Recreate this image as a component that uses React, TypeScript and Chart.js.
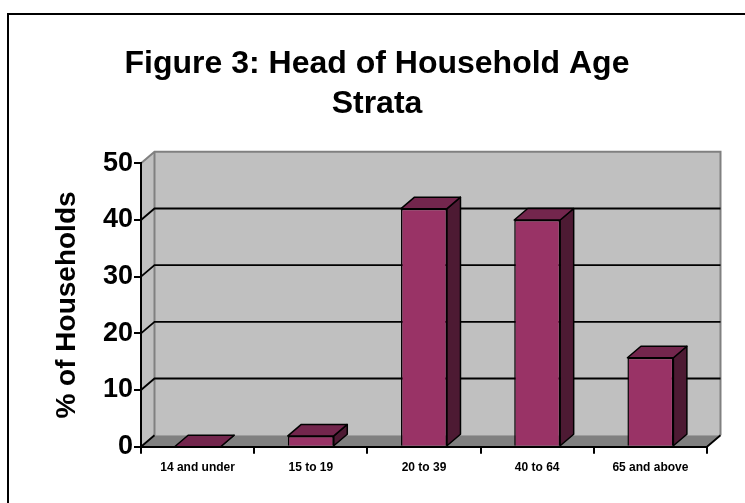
import React, { useEffect, useRef } from 'react';
import { Chart, registerables } from 'chart.js';

Chart.register(...registerables);

const titleLines = ['Figure 3: Head of Household Age', 'Strata'];
const yAxisTitle = '% of Households';
const categories = ['14 and under', '15 to 19', '20 to 39', '40 to 64', '65 and above'];
const households = [0, 1.9, 42.0, 40.0, 15.7];
const yTicks = [0, 10, 20, 30, 40, 50];

const DX = 13.5;
const DY = -11.5;
const FRONT = '#993366';
const TOPC = '#73264D';
const SIDE = '#4D1A33';
const WALL = '#C0C0C0';
const FLOOR = '#808080';
const EDGE = '#808080';
const FONT = 'Arial, "Liberation Sans", Helvetica, sans-serif';

const threeD = {
  id: 'threeD',
  beforeDraw(chart: any) {
    const ctx = chart.ctx;
    const { left, right, top, bottom } = chart.chartArea;
    const ys = chart.scales.y;
    ctx.save();
    ctx.strokeStyle = '#000';
    ctx.lineWidth = 2;
    ctx.strokeRect(8, 14, 800, 600);

    ctx.fillStyle = WALL;
    ctx.fillRect(left + DX, top + DY, right - left, bottom - top);
    ctx.beginPath();
    ctx.moveTo(left, top);
    ctx.lineTo(left + DX, top + DY);
    ctx.lineTo(left + DX, bottom + DY);
    ctx.lineTo(left, bottom);
    ctx.closePath();
    ctx.fill();

    ctx.fillStyle = FLOOR;
    ctx.beginPath();
    ctx.moveTo(left, bottom);
    ctx.lineTo(right, bottom);
    ctx.lineTo(right + DX, bottom + DY);
    ctx.lineTo(left + DX, bottom + DY);
    ctx.closePath();
    ctx.fill();

    ctx.strokeStyle = EDGE;
    ctx.lineWidth = 2;
    ctx.beginPath();
    ctx.moveTo(left, top);
    ctx.lineTo(left + DX, top + DY);
    ctx.lineTo(right + DX, top + DY);
    ctx.lineTo(right + DX, bottom + DY);
    ctx.moveTo(left + DX, top + DY);
    ctx.lineTo(left + DX, bottom + DY);
    ctx.stroke();

    ctx.strokeStyle = '#000';
    ctx.lineWidth = 1.8;
    ctx.beginPath();
    for (const v of yTicks) {
      if (v === yTicks[yTicks.length - 1]) continue;
      const py = ys.getPixelForValue(v);
      ctx.moveTo(left, py);
      ctx.lineTo(left + DX, py + DY);
      if (v !== 0) ctx.lineTo(right + DX, py + DY);
    }
    ctx.moveTo(right, bottom);
    ctx.lineTo(right + DX, bottom + DY);
    ctx.stroke();
    ctx.restore();
  },
  afterDatasetsDraw(chart: any) {
    const ctx = chart.ctx;
    const meta = chart.getDatasetMeta(0);
    ctx.save();
    ctx.strokeStyle = '#000';
    ctx.lineWidth = 1.5;
    ctx.lineJoin = 'round';
    meta.data.forEach((el: any) => {
      const { x, y, base, width } = el.getProps(['x', 'y', 'base', 'width'], true);
      const l = x - width / 2;
      const r = x + width / 2;
      ctx.fillStyle = SIDE;
      ctx.beginPath();
      ctx.moveTo(r, y);
      ctx.lineTo(r + DX, y + DY);
      ctx.lineTo(r + DX, base + DY);
      ctx.lineTo(r, base);
      ctx.closePath();
      ctx.fill();
      ctx.stroke();
      ctx.fillStyle = TOPC;
      ctx.beginPath();
      ctx.moveTo(l, y);
      ctx.lineTo(r, y);
      ctx.lineTo(r + DX, y + DY);
      ctx.lineTo(l + DX, y + DY);
      ctx.closePath();
      ctx.fill();
      ctx.stroke();
    });
    ctx.restore();
  },
};

export default function App() {
  const ref = useRef<HTMLCanvasElement | null>(null);
  useEffect(() => {
    if (!ref.current) return;
    const chart = new Chart(ref.current, {
      type: 'bar',
      data: {
        labels: categories,
        datasets: [
          {
            data: households,
            backgroundColor: FRONT,
            borderColor: '#000',
            borderWidth: 1.5,
            borderSkipped: 'start',
            categoryPercentage: 1,
            barPercentage: 0.406,
          },
        ],
      },
      options: {
        responsive: false,
        devicePixelRatio: 1,
        animation: false,
        layout: { padding: { left: 47, right: 38, top: 0, bottom: 0 } },
        plugins: {
          legend: { display: false },
          tooltip: { enabled: false },
          title: {
            display: true,
            text: titleLines,
            color: '#000',
            font: { family: FONT, size: 32, weight: 'bold', lineHeight: '40px' },
            padding: { top: 44, bottom: 39.3 },
          },
        },
        scales: {
          x: {
            offset: true,
            afterFit: (s: any) => {
              s.height = 56.3;
            },
            border: { display: true, color: '#000', width: 2 },
            grid: {
              display: true,
              offset: true,
              drawOnChartArea: false,
              drawTicks: true,
              tickLength: 7,
              color: '#000',
              lineWidth: 2,
            },
            ticks: {
              color: '#000',
              padding: 7,
              maxRotation: 0,
              autoSkip: false,
              font: { family: FONT, size: 12, weight: 'bold' },
            },
          },
          y: {
            min: 0,
            max: 50,
            afterFit: (s: any) => {
              s.width = 94;
            },
            border: { display: true, color: '#000', width: 2 },
            grid: {
              display: true,
              drawOnChartArea: false,
              drawTicks: true,
              tickLength: 7,
              color: '#000',
              lineWidth: 2,
            },
            ticks: {
              stepSize: 10,
              color: '#000',
              padding: 1,
              font: { family: FONT, size: 27, weight: 'bold' },
            },
            title: {
              display: true,
              text: yAxisTitle,
              color: '#000',
              font: { family: FONT, size: 28, weight: 'bold' },
              padding: { top: 3.2, bottom: 0 },
            },
          },
        },
      },
      plugins: [threeD],
    });
    return () => chart.destroy();
  }, []);
  return (
    <div style={{ position: 'absolute', left: 0, top: 0, width: 745, height: 503, background: '#fff' }}>
      <canvas ref={ref} width={745} height={503} style={{ display: 'block', width: 745, height: 503 }} />
    </div>
  );
}
